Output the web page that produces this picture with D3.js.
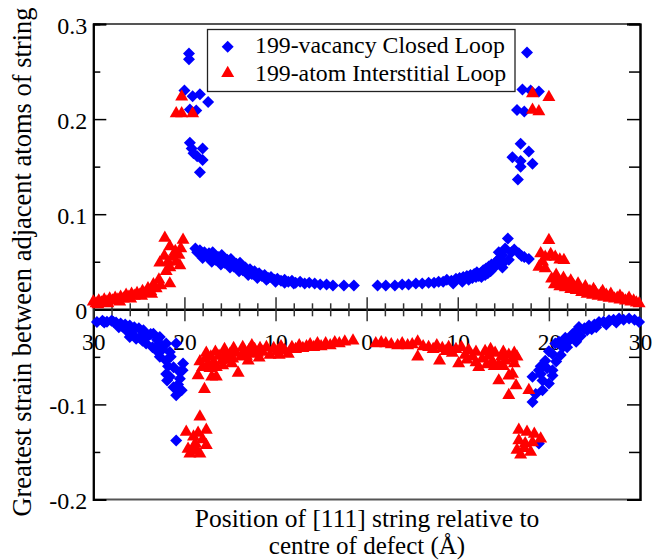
<!DOCTYPE html>
<html>
<head>
<meta charset="utf-8">
<script src="https://cdn.jsdelivr.net/npm/d3@7"></script>
<style>
  html, body { margin: 0; padding: 0; background: #fff; }
  svg { display: block; }
</style>
</head>
<body>
<svg id="chart" width="669" height="560"></svg>
<script>
// Greatest strain between adjacent atoms of a [111] string, by string position
// (Å, relative to the defect centre), for two 199-point-defect loops.

const seriesNames = ["199-vacancy Closed Loop", "199-atom Interstitial Loop"];
const seriesColors = ["#0000ff", "#ff0000"];

// x tick positions and their printed labels (distance from centre)
const xTickValues = [-30, -20, -10, 0, 10, 20, 30];
const xTickLabels = ["30", "20", "10", "0", "10", "20", "30"];
const yTickValues = [-0.2, -0.1, 0, 0.1, 0.2, 0.3];
const yTickLabels = ["-0.2", "-0.1", "0", "0.1", "0.2", "0.3"];

// vacancy loop, tensile strain [position, strain]
const vacancyTension = [
  [-19.5,0.269],[-19.5,0.263],[-20.0,0.230],[-19.1,0.224],[-18.3,0.226],[-17.4,0.218],
  [-19.4,0.210],[-18.7,0.209],[-19.4,0.175],[-19.2,0.169],[-18.0,0.169],[-19.0,0.164],
  [-18.6,0.161],[-18.0,0.157],[-18.3,0.144],
  [17.6,0.270],[17.1,0.231],[18.0,0.230],[18.9,0.229],[16.5,0.2095],[17.3,0.208],
  [16.9,0.174],[17.8,0.166],[16.0,0.160],[16.9,0.156],[18.2,0.153],[16.9,0.150],[16.6,0.1365],
  [-18.8,0.064],[-18.6,0.060],[-18.3,0.062],[-18.1,0.058],[-17.8,0.060],[-17.6,0.056],
  [-17.3,0.059],[-17.1,0.054],[-16.8,0.057],[-16.6,0.052],[-16.3,0.055],[-16.1,0.050],
  [-15.8,0.054],[-15.6,0.049],[-15.3,0.052],[-15.1,0.047],[-14.8,0.050],[-14.6,0.045],
  [-14.3,0.048],[-14.1,0.043],[-13.8,0.046],[-13.6,0.041],[-13.3,0.044],[-13.1,0.039],
  [-12.8,0.042],[-12.6,0.037],[-12.3,0.040],[-12.1,0.036],[-11.8,0.038],[-11.5,0.035],
  [-11.2,0.036],[-10.8,0.033],[-10.5,0.034],[-10.1,0.031],[-9.8,0.032],[-9.4,0.030],
  [-9.0,0.031],[-8.6,0.029],[-8.2,0.030],[-7.8,0.028],[-7.3,0.029],[-6.8,0.027],
  [-6.3,0.028],[-5.7,0.027],[-5.1,0.026],[-4.4,0.026],[-3.7,0.025],[-2.5,0.025],[-1.4,0.025],
  [-18.0,0.054],[-17.0,0.050],[-16.0,0.047],[-15.0,0.044],[-14.0,0.040],[-13.0,0.036],
  [-12.0,0.033],[-11.0,0.031],[-10.0,0.029],[-9.0,0.028],[-8.0,0.027],[-16.9,0.060],
  [-15.9,0.057],[-14.9,0.053],[-13.9,0.049],
  [1.2,0.025],[2.1,0.025],[3.1,0.025],[3.9,0.026],[4.6,0.026],[5.4,0.027],[6.1,0.027],
  [6.8,0.028],[7.4,0.028],[7.9,0.029],[8.4,0.029],[8.8,0.031],[9.3,0.030],[9.8,0.032],
  [10.2,0.033],[10.4,0.031],[10.6,0.034],[11.0,0.035],[11.4,0.036],[11.6,0.033],[11.8,0.037],
  [12.1,0.039],[12.3,0.035],[12.5,0.038],[12.6,0.034],[12.8,0.041],[13.0,0.036],[13.1,0.043],
  [13.3,0.038],[13.4,0.045],[13.6,0.040],[13.7,0.047],[13.9,0.044],[14.2,0.050],[14.5,0.053],
  [14.5,0.060],[14.9,0.057],[14.9,0.044],[15.2,0.064],[15.5,0.0744],[15.6,0.052],[15.9,0.060],
  [16.2,0.063],[16.7,0.059],[17.0,0.056],[17.3,0.055],[17.8,0.053],
  [9.5,0.027],[10.5,0.029],[11.2,0.031],[12.0,0.034],[13.8,0.042],[14.2,0.047],[15.0,0.049]
];

// vacancy loop, compressive strain
const vacancyCompression = [
  [-29.6,-0.0134],[-29.0,-0.012],[-28.8,-0.014],[-28.5,-0.013],[-28.0,-0.012],[-27.8,-0.013],
  [-27.5,-0.014],[-27.0,-0.015],[-26.8,-0.018],[-26.5,-0.016],[-26.0,-0.017],[-25.5,-0.019],
  [-25.0,-0.020],[-24.5,-0.022],[-26.0,-0.029],[-25.8,-0.024],[-25.3,-0.031],[-24.6,-0.033],
  [-24.2,-0.036],[-24.0,-0.028],[-23.7,-0.026],[-23.5,-0.040],[-23.4,-0.0256],[-23.1,-0.043],
  [-23.0,-0.032],[-22.7,-0.029],[-22.7,-0.036],[-22.7,-0.050],[-22.4,-0.042],[-22.0,-0.036],
  [-22.0,-0.054],[-21.8,-0.060],[-21.6,-0.045],[-21.5,-0.050],[-21.2,-0.061],[-20.9,-0.036],
  [-20.15,-0.057],[-20.2,-0.064],[-20.5,-0.066],[-22.0,-0.068],[-21.9,-0.075],[-21.6,-0.071],
  [-20.5,-0.073],[-20.7,-0.079],[-21.2,-0.082],[-20.3,-0.085],[-20.9,-0.0905],[-20.9,-0.138],
  [-27.2,-0.019],[-26.4,-0.022],[-25.6,-0.027],[-24.9,-0.030],[-24.4,-0.026],
  [29.9,-0.0134],[29.4,-0.011],[28.8,-0.0098],[28.2,-0.011],[27.7,-0.0098],[27.1,-0.011],
  [26.6,-0.0116],[26.0,-0.013],[25.5,-0.0134],[25.0,-0.016],[24.4,-0.017],[24.2,-0.022],
  [23.9,-0.020],[23.5,-0.028],[23.3,-0.0186],[23.0,-0.034],[22.9,-0.024],[22.6,-0.026],
  [22.2,-0.0326],[22.0,-0.040],[21.8,-0.030],[21.5,-0.040],[21.3,-0.048],[21.1,-0.034],
  [20.8,-0.055],[20.7,-0.036],[20.4,-0.047],[20.0,-0.044],[19.8,-0.062],[19.6,-0.054],
  [20.4,-0.064],[19.1,-0.060],[18.9,-0.064],[18.2,-0.071],[19.3,-0.075],[18.55,-0.089],
  [18.2,-0.0976],[19.3,-0.085],[20.0,-0.078],[20.4,-0.0695],[19.1,-0.068],[18.9,-0.141],
  [27.4,-0.014],[26.3,-0.016],[25.2,-0.019],[24.7,-0.021],[21.9,-0.036],[22.5,-0.030]
];

// interstitial loop, tensile strain
const interstitialTension = [
  [-20.3,0.2235],[-20.9,0.206],[-20.3,0.206],[-19.1,0.206],
  [18.2,0.227],[20.0,0.223],[18.2,0.2095],[18.9,0.208],
  [-30.0,0.008],[-29.7,0.006],[-29.4,0.009],[-29.1,0.007],[-28.8,0.010],[-28.5,0.008],
  [-28.2,0.011],[-27.9,0.009],[-27.6,0.012],[-27.3,0.010],[-27.0,0.013],[-26.7,0.011],
  [-26.4,0.015],[-26.1,0.013],[-25.8,0.016],[-25.5,0.014],[-25.2,0.017],[-24.9,0.015],
  [-24.6,0.019],[-24.3,0.017],[-24.0,0.022],[-23.7,0.019],[-23.4,0.026],[-23.1,0.022],
  [-22.8,0.031],[-22.6,0.025],[-21.6,0.027],
  [-29.5,0.005],[-28.4,0.006],[-27.1,0.008],[-25.9,0.011],[-24.7,0.014],[-23.6,0.016],
  [-22.15,0.075],[-20.15,0.073],[-21.6,0.066],[-20.4,0.064],[-21.0,0.061],[-22.2,0.056],
  [-21.3,0.055],[-20.6,0.057],[-22.7,0.049],[-21.8,0.050],[-20.9,0.050],[-21.6,0.044],
  [-20.5,0.046],[-22.0,0.040],
  [20.0,0.0726],[19.1,0.0586],[19.6,0.055],[20.7,0.055],[21.65,0.0516],[18.9,0.0445],
  [19.6,0.043],[19.3,0.050],[20.2,0.058],[21.2,0.052],
  [20.3,0.032],[20.6,0.026],[20.9,0.030],[21.2,0.024],[21.5,0.029],[21.8,0.023],[22.1,0.027],
  [22.4,0.021],[22.7,0.025],[23.0,0.020],[23.3,0.023],[23.6,0.018],[23.9,0.021],[24.2,0.016],
  [24.5,0.019],[24.8,0.015],[25.1,0.018],[25.4,0.014],[25.7,0.016],[26.0,0.013],[26.3,0.015],
  [26.6,0.012],[26.9,0.013],[27.2,0.011],[27.5,0.012],[27.8,0.010],[28.1,0.011],[28.4,0.009],
  [28.7,0.010],[29.0,0.008],[29.3,0.009],[29.6,0.007],[29.9,0.006],
  [20.8,0.036],[21.6,0.033],[22.4,0.030],[23.2,0.027],[24.0,0.024],[24.9,0.021],[25.9,0.019],
  [26.8,0.016],[27.8,0.014],[28.8,0.012]
];

// interstitial loop, compressive strain
const interstitialCompression = [
  [-18.3,-0.055],[-18.0,-0.061],[-17.7,-0.052],[-17.4,-0.058],[-17.1,-0.050],[-16.8,-0.056],
  [-16.5,-0.061],[-16.2,-0.049],[-15.9,-0.054],[-15.6,-0.048],[-15.3,-0.053],[-15.0,-0.047],
  [-14.7,-0.052],[-14.4,-0.046],[-14.1,-0.067],[-13.8,-0.050],[-13.5,-0.045],[-13.2,-0.049],
  [-12.9,-0.043],[-12.6,-0.047],[-12.3,-0.042],[-12.0,-0.046],[-11.7,-0.041],[-11.4,-0.045],
  [-11.0,-0.040],[-10.6,-0.048],[-10.2,-0.041],[-9.8,-0.044],[-9.4,-0.039],[-9.0,-0.043],
  [-8.6,-0.047],[-8.2,-0.040],[-7.8,-0.042],[-7.4,-0.038],[-7.0,-0.041],[-6.6,-0.039],
  [-6.2,-0.037],[-5.8,-0.040],[-5.4,-0.036],[-5.0,-0.039],[-4.5,-0.036],[-4.0,-0.038],
  [-3.5,-0.035],[-3.0,-0.036],[-2.4,-0.034],[-1.5,-0.033],
  [-17.6,-0.046],[-16.6,-0.045],[-15.6,-0.042],[-14.6,-0.041],[-13.6,-0.040],[-12.6,-0.038],
  [-17.2,-0.062],[-15.8,-0.059],[-14.8,-0.057],[-13.0,-0.054],[-11.8,-0.051],[-9.6,-0.048],
  [-18.5,-0.0695],[-17.0,-0.071],[-17.8,-0.084],[-16.5,-0.071],
  [-18.3,-0.113],[-17.6,-0.127],[-19.8,-0.129],[-19.0,-0.134],[-18.5,-0.130],[-18.0,-0.137],
  [-17.6,-0.143],[-18.8,-0.141],[-19.6,-0.147],[-18.9,-0.146],[-19.4,-0.152],[-18.3,-0.152],
  [-18.6,-0.149],
  [1.0,-0.036],[1.6,-0.035],[2.1,-0.036],[2.7,-0.037],[3.4,-0.038],[3.9,-0.036],[4.5,-0.038],
  [5.0,-0.037],[5.6,-0.034],[5.6,-0.050],[6.2,-0.039],[6.8,-0.040],[7.3,-0.042],[7.7,-0.038],
  [8.0,-0.054],[8.3,-0.041],[8.7,-0.044],[9.0,-0.040],[9.4,-0.046],[9.8,-0.042],[10.1,-0.057],
  [10.4,-0.040],[10.8,-0.048],[11.2,-0.043],[11.6,-0.050],[12.0,-0.045],[12.3,-0.061],
  [12.7,-0.052],[13.0,-0.044],[13.4,-0.049],[13.8,-0.055],[14.1,-0.046],[14.5,-0.058],
  [14.8,-0.050],[15.2,-0.054],[15.6,-0.048],[16.0,-0.052],[16.5,-0.050],
  [11.0,-0.053],[12.0,-0.056],[13.2,-0.058],[14.0,-0.060],[15.0,-0.060],[16.2,-0.057],
  [13.6,-0.042],[15.0,-0.045],[16.2,-0.046],
  [14.5,-0.075],[15.6,-0.070],[16.0,-0.068],[16.4,-0.080],[15.6,-0.0905],[17.8,-0.085],
  [16.7,-0.127],[17.6,-0.129],[18.4,-0.131],[19.1,-0.136],[16.7,-0.138],[17.4,-0.141],
  [18.2,-0.140],[16.5,-0.148],[18.0,-0.150],[16.9,-0.153],[17.3,-0.146]
];

const svg = d3.select("#chart");
const plotLeft = 93.3, plotRight = 640, plotTop = 24, plotBottom = 499.5;
const serif = "Liberation Serif, DejaVu Serif, Times New Roman, serif";

const x = d3.scaleLinear().domain([-30, 30]).range([plotLeft, plotRight]);
const y = d3.scaleLinear().domain([-0.2, 0.3]).range([plotBottom, plotTop]);

const yLabel = d => yTickLabels[yTickValues.indexOf(d)];
const xLabel = d => xTickLabels[xTickValues.indexOf(d)];
const yMinor = d3.range(-0.15, 0.3, 0.1).map(v => +v.toFixed(2));
const xMinor = d3.range(-30, 31, 2).filter(v => v % 10 !== 0);

// frame: grey top/bottom edges, black side axes
svg.append("line").attr("x1", plotLeft).attr("x2", plotRight).attr("y1", plotTop).attr("y2", plotTop)
  .attr("stroke", "#555").attr("stroke-width", 2);
svg.append("line").attr("x1", plotLeft).attr("x2", plotRight).attr("y1", plotBottom).attr("y2", plotBottom)
  .attr("stroke", "#555").attr("stroke-width", 2);

// left axis with inward ticks
const gl = svg.append("g").attr("transform", `translate(${plotLeft},0)`)
  .call(d3.axisLeft(y).tickValues(yTickValues).tickSize(-13).tickPadding(6).tickFormat(yLabel));
const glm = svg.append("g").attr("transform", `translate(${plotLeft},0)`)
  .call(d3.axisLeft(y).tickValues(yMinor).tickSize(-7).tickFormat(""));
// right axis, ticks only
const gr = svg.append("g").attr("transform", `translate(${plotRight},0)`)
  .call(d3.axisRight(y).tickValues(yTickValues).tickSize(-13).tickFormat(""));
const grm = svg.append("g").attr("transform", `translate(${plotRight},0)`)
  .call(d3.axisRight(y).tickValues(yMinor).tickSize(-11).tickFormat(""));

[gl, glm, gr, grm].forEach(g => {
  g.attr("font-family", serif).attr("font-size", 24);
  g.select(".domain").attr("stroke", "#000").attr("stroke-width", 2);
  g.selectAll(".tick line").attr("stroke", "#000").attr("stroke-width", 1.5);
});
gl.selectAll(".tick text").attr("dy", "0.38em").attr("fill", "#000");

// horizontal axis along zero strain, ticks straddling the line
const y0 = y(0);
const gx = svg.append("g").attr("transform", `translate(0,${y0})`)
  .call(d3.axisBottom(x).tickValues(xTickValues).tickSize(0).tickFormat(xLabel));
const gxm = svg.append("g").attr("transform", `translate(0,${y0})`)
  .call(d3.axisBottom(x).tickValues(xMinor).tickSize(0).tickFormat(""));
gx.attr("font-family", serif).attr("font-size", 23.5);
gx.selectAll(".tick line").attr("y1", -12).attr("y2", 12).attr("stroke", "#333").attr("stroke-width", 1.5);
gxm.selectAll(".tick line").attr("y1", -6).attr("y2", 7).attr("stroke", "#333").attr("stroke-width", 1.5);
gx.select(".domain").attr("stroke", "#000").attr("stroke-width", 2.6);
gxm.select(".domain").remove();
gx.selectAll(".tick text").attr("y", 40.5).attr("dy", 0).attr("fill", "#000");

// markers
const diamond = d3.symbol().type(d3.symbolSquare).size(72)();
const triangle = d3.symbol().type(d3.symbolTriangle).size(73)();

const vacancyAll = vacancyTension.concat(vacancyCompression);
const interstitialAll = interstitialTension.concat(interstitialCompression);

svg.append("g").selectAll("path").data(vacancyAll).join("path")
  .attr("d", diamond)
  .attr("transform", d => `translate(${x(d[0])},${y(d[1])}) rotate(45)`)
  .attr("fill", seriesColors[0]);

svg.append("g").selectAll("path").data(interstitialAll).join("path")
  .attr("d", triangle)
  .attr("transform", d => `translate(${x(d[0])},${y(d[1])})`)
  .attr("fill", seriesColors[1]);

// legend
const lg = svg.append("g").attr("font-family", serif).attr("font-size", 23.8);
lg.append("rect").attr("x", 207.5).attr("y", 29.5).attr("width", 307.5).attr("height", 62)
  .attr("fill", "#fff").attr("stroke", "#222").attr("stroke-width", 1.3);
const legendRows = [
  { name: seriesNames[0], color: seriesColors[0], shape: diamond, rot: 45, cy: 46.7, base: 53 },
  { name: seriesNames[1], color: seriesColors[1], shape: triangle, rot: 0, cy: 73.3, base: 80.5 }
];
legendRows.forEach(r => {
  lg.append("path").attr("d", r.shape)
    .attr("transform", `translate(227.7,${r.cy}) rotate(${r.rot})`)
    .attr("fill", r.color);
  lg.append("text").attr("x", 255).attr("y", r.base).text(r.name);
});

// axis titles
const titles = svg.append("g").attr("font-family", serif);
titles.append("text")
  .attr("transform", `translate(31,262) rotate(-90)`)
  .attr("text-anchor", "middle").attr("font-size", 26.5)
  .text("Greatest strain between adjacent atoms of string");
titles.append("text").attr("x", 367).attr("y", 526.5).attr("text-anchor", "middle").attr("font-size", 25.5)
  .text("Position of [111] string relative to");
titles.append("text").attr("x", 367).attr("y", 554).attr("text-anchor", "middle").attr("font-size", 25)
  .text("centre of defect (Å)");
</script>
</body>
</html>
